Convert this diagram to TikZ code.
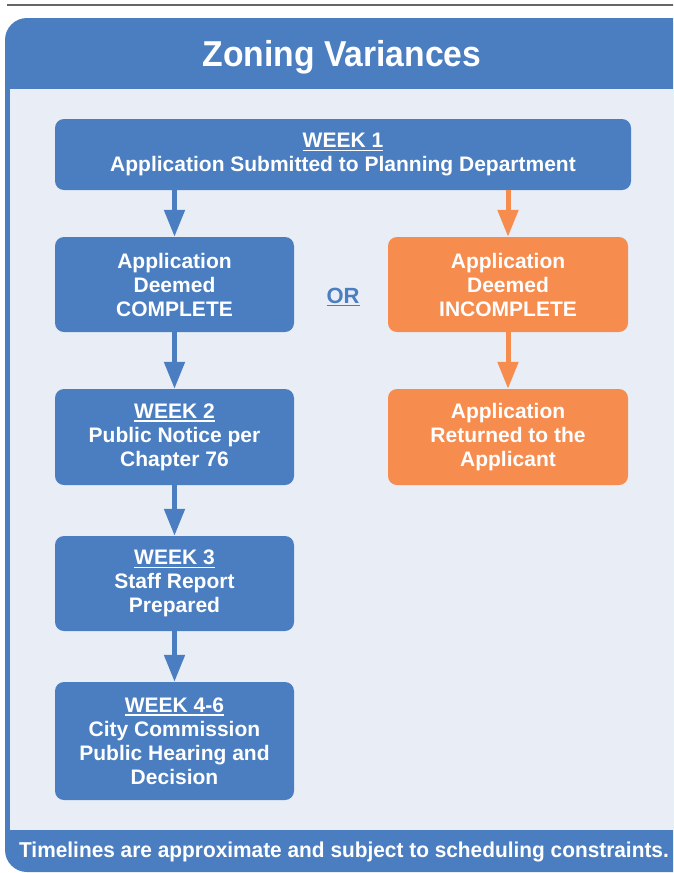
\documentclass[tikz,border=0pt]{standalone}
\usepackage{fontspec}
\setmainfont{Liberation Sans}
\usetikzlibrary{arrows.meta}

\definecolor{flowblue}{HTML}{4A7EC1}
\definecolor{flowpale}{HTML}{E8EDF6}
\definecolor{floworange}{HTML}{F78C4F}
\definecolor{rulegray}{HTML}{666666}

% underline drawn as a rule that scales with the text
\newcommand\weekline[1]{\setbox0=\hbox{#1}\rlap{\color{white}\rule[-3.5pt]{\wd0}{1.5pt}}\box0}

\tikzset{
  stepbox/.style={rounded corners=9pt, fill=flowblue, text=white, align=center,
    inner sep=0pt, font=\bfseries\fontsize{21}{24}\selectfont},
  altbox/.style={stepbox, fill=floworange},
  flowarrow/.style={line width=5pt, draw=flowblue,
    -{Triangle[width=20pt,length=27pt]}},
  altarrow/.style={flowarrow, draw=floworange},
}

\begin{document}
\begin{tikzpicture}[x=1pt,y=-1pt]
\useasboundingbox (0,0) rectangle (673,873);
\clip (0,0) rectangle (673,873);

% top rule
\draw[rulegray, line width=2pt] (7,5) -- (680,5);

% outer frame with header and footer bands
\fill[flowblue, rounded corners=22pt] (5,18) rectangle (700,872);
\fill[flowpale] (10,89) rectangle (700,830);

\node[text=white, font=\bfseries\fontsize{36}{40}\selectfont] (title) at (342,57)
  {\scalebox{0.935}[1]{Zoning Variances}};

% steps
\node[stepbox, minimum width=576pt, minimum height=71pt] (w1) at (343,154.5)
  {\weekline{WEEK 1}\\Application Submitted to Planning Department};
\node[stepbox, minimum width=239pt, minimum height=95pt] (complete) at (174.5,284.5)
  {Application\\Deemed\\COMPLETE};
\node[altbox, minimum width=240pt, minimum height=95pt] (incomplete) at (508,284.5)
  {Application\\Deemed\\INCOMPLETE};
\node[stepbox, minimum width=239pt, minimum height=96pt] (w2) at (174.5,437)
  {\weekline{WEEK 2}\\Public Notice per\\Chapter 76};
\node[altbox, minimum width=240pt, minimum height=96pt] (returned) at (508,437)
  {Application\\Returned to the\\Applicant};
\node[stepbox, minimum width=239pt, minimum height=95pt] (w3) at (174.5,583.5)
  {\weekline{WEEK 3}\\Staff Report\\Prepared};
\node[stepbox, minimum width=239pt, minimum height=118pt] (w46) at (174.5,741)
  {\weekline{WEEK 4-6}\\City Commission\\Public Hearing and\\Decision};

\node[text=flowblue, font=\bfseries\fontsize{22}{24}\selectfont] (or) at (343,297)
  {\setbox0=\hbox{OR}\rlap{\rule[-3pt]{\wd0}{1.4pt}}\box0};

% connectors
\draw[flowarrow] (complete.north |- w1.south) -- (complete.north);
\draw[altarrow] (incomplete.north |- w1.south) -- (incomplete.north);
\draw[flowarrow] (complete.south) -- (w2.north);
\draw[altarrow] (incomplete.south) -- (returned.north);
\draw[flowarrow] (w2.south) -- (w3.north);
\draw[flowarrow] (w3.south) -- (w46.north);

% footer note
\node[text=white, font=\bfseries\fontsize{21.5}{24}\selectfont] (note) at (344,852)
  {\scalebox{0.97}[1]{Timelines are approximate and subject to scheduling constraints.}};
\end{tikzpicture}
\end{document}
